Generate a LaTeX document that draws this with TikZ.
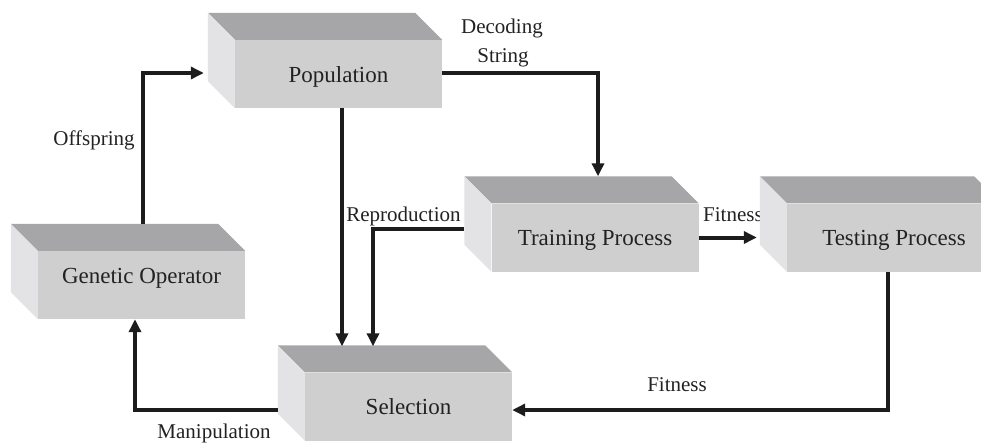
\documentclass[tikz,border=0pt]{standalone}
\usepackage{fontspec}
\setmainfont{Liberation Serif}
\newfontfamily\tms{Liberation Serif}
\usetikzlibrary{calc,arrows.meta}
\definecolor{frontc}{HTML}{CFCFD0}
\definecolor{topc}{HTML}{A6A6A8}
\definecolor{sidec}{HTML}{E3E3E5}
\definecolor{linec}{HTML}{1C1C1C}
\definecolor{textc}{HTML}{222222}
\tikzset{
 box/.style={fill=frontc, minimum width=207pt, minimum height=68pt, inner sep=0pt,
   text height=16pt, text depth=0pt, font=\tms\fontsize{23}{27}\selectfont, text=textc},
 lbl/.style={font=\tms\fontsize{21}{25}\selectfont, text=textc, inner sep=0pt, anchor=base},
 conn/.style={line width=4pt, draw=linec, -{Triangle[length=13pt,width=12pt]}},
}
\newcommand{\boxfaces}[1]{%
 \fill[topc] (#1.north west) -- ++(-27,-27) -- ($(#1.north east)+(-27,-27)$) -- (#1.north east) -- cycle;
 \fill[sidec] (#1.north west) -- ++(-27,-27) -- ($(#1.south west)+(-27,-27)$) -- (#1.south west) -- cycle;
}
\begin{document}
\begin{tikzpicture}[x=1pt,y=-1pt]
\useasboundingbox (0,0) rectangle (981,442);
% labels
\node[lbl] (ldec) at (502,33) {Decoding};
\node[lbl] (lstr) at (503,62) {String};
\node[lbl] (loff) at (94,145) {Offspring};
\node[lbl] (lrep) at (403.5,221) {Reproduction};
\node[lbl,anchor=base west] (lfit1) at (703,221) {Fitness};
\node[lbl] (lfit2) at (677,391) {Fitness};
\node[lbl] (lman) at (214,438) {Manipulation};
% boxes
\node[box] (pop) at (338.5,74) {Population};
\node[box, text depth=20pt] (gen) at (141.5,285) {Genetic Operator};
\node[box] (sel) at (408.5,406.5) {Selection};
\node[box] (train) at (595,237.5) {Training Process};
\node[box, minimum width=214pt] (test) at (894,237.5) {Testing Process};
\boxfaces{pop}
\boxfaces{gen}
\boxfaces{sel}
\boxfaces{train}
\boxfaces{test}
% connectors
\coordinate (genTop) at ($(gen.north)+(1.5,-27)$);
\coordinate (popL) at ($(pop.west)+(-27,-1)$);
\draw[conn, shorten >=4pt] (genTop) |- (popL);
\coordinate (popR) at ($(pop.east)+(0,-1)$);
\coordinate (trTop) at ($(train.north)+(3,-27)$);
\draw[conn] (popR) -| (trTop);
\coordinate (selTop) at ($(sel.north)+(0,-26)$);
\coordinate (popB) at ($(pop.south)+(3.5,0)$);
\draw[conn] (popB) -- (popB |- selTop);
\coordinate (trL) at ($(train.west)+(-27,-8.5)$);
\coordinate (repX) at ($(sel.north)+(-35.5,-26)$);
\draw[conn] (trL) -| (repX);
\coordinate (testL) at ($(test.west)+(-27,0)$);
\draw[conn, shorten >=3pt] (train.east) -- (testL);
\coordinate (testB) at ($(test.south)+(-6,0)$);
\coordinate (selR) at ($(sel.east)+(0,3.5)$);
\draw[conn] (testB) |- (selR);
\coordinate (selL) at ($(sel.west)+(-27,3.5)$);
\coordinate (genB) at ($(gen.south)+(-6.5,0)$);
\draw[conn] (selL) -| (genB);
\end{tikzpicture}
\end{document}
